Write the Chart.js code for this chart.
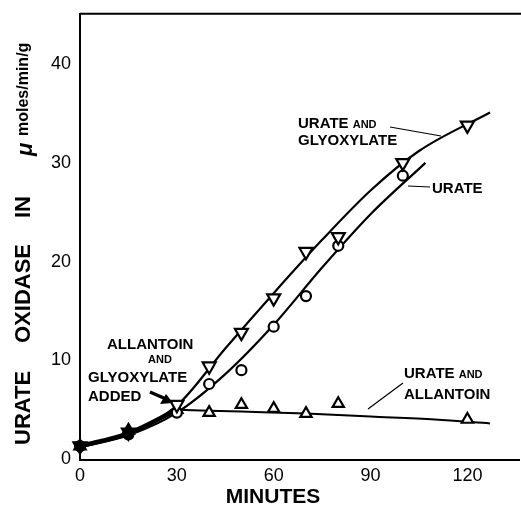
<!DOCTYPE html>
<html>
<head>
  <title>Urate oxidase</title>
  <script src="https://cdn.jsdelivr.net/npm/chart.js"></script>
  <style>
    body { margin: 0; background: #fff; }
    #wrap { width: 521px; height: 508px; }
  </style>
</head>
<body>
  <div id="wrap"><canvas id="chart" width="521" height="508"></canvas></div>

  <script>
    // measured points (minutes, umoles/min/g)
    const minutes = [0, 15, 30, 40, 50, 60, 70, 80, 100, 120];
    const glyoxylatePts = [1.3, 2.7, 5.5, 9.4, 12.8, 16.3, 21.0, 22.5, 30.0, 33.8];
    const uratePts = [1.3, 2.5, 4.7, 7.6, 9.0, 13.4, 16.5, 21.6, 28.7, null];
    const allantoinMin = [0, 15, 30, 40, 50, 60, 70, 80, 120];
    const allantoinPts = [1.3, 2.9, 5.0, 4.7, 5.5, 5.1, 4.6, 5.6, 4.0];

    // hand-drawn fitted curves
    const glyoxCurveX = [0, 15, 30, 45, 60, 75, 90, 105, 127];
    const glyoxCurveY = [1.2, 2.6, 5.4, 11.2, 16.8, 22.2, 27.2, 31.2, 35.1];
    const urateCurveX = [0, 15, 30, 45, 60, 75, 90, 107];
    const urateCurveY = [1.2, 2.4, 4.7, 8.6, 13.6, 19.4, 24.8, 30.0];
    const allanCurveX = [30, 50, 70, 90, 110, 127];
    const allanCurveY = [5.0, 4.8, 4.6, 4.3, 4.0, 3.6];

    const xTicks = [0, 30, 60, 90, 120];
    const yTicks = [0, 10, 20, 30, 40];

    const pts = (xs, ys) => xs.map((x, i) => ({ x: x, y: ys[i] })).filter(p => p.y !== null);

    const font = "'Liberation Sans', Arial, sans-serif";
    const fillFor = c => (c.raw && c.raw.x < 20) ? '#000' : '#fff';

    // extra drawing: frame, labels and leader lines
    const notes = {
      id: 'notes',
      afterDraw(chart) {
        const c = chart.ctx;
        const a = chart.chartArea;
        c.save();
        c.strokeStyle = '#000';
        c.fillStyle = '#000';
        c.lineWidth = 2;
        c.beginPath();
        c.moveTo(a.left, a.top);
        c.lineTo(521, a.top);
        c.moveTo(a.left - 1, a.bottom + 1);
        c.lineTo(520, a.bottom + 1);
        c.stroke();

        c.textBaseline = 'alphabetic';
        c.textAlign = 'left';
        const big = 'bold 15px ' + font;
        const small = 'bold 11px ' + font;
        function word(parts, x, y) {
          parts.forEach(p => {
            c.font = p[1];
            c.fillText(p[0], x, y);
            x += c.measureText(p[0]).width;
          });
        }
        word([['URATE ', big], ['AND', small]], 298, 128);
        word([['GLYOXYLATE', big]], 298, 145);
        word([['URATE', big]], 432, 193);
        word([['URATE ', big], ['AND', small]], 404, 378);
        word([['ALLANTOIN', big]], 404, 399);
        word([['ALLANTOIN', big]], 107, 349);
        word([['AND', small]], 148, 363);
        word([['GLYOXYLATE', big]], 88, 382);
        word([['ADDED', big]], 88, 401);

        c.textAlign = 'center';
        c.font = 'bold 21px ' + font;
        c.fillText('MINUTES', 273, 503);
        c.textAlign = 'left';

        c.lineWidth = 1.2;
        c.beginPath();
        c.moveTo(390, 127); c.lineTo(441, 136);
        c.moveTo(408, 186); c.lineTo(430, 187);
        c.moveTo(368, 409); c.lineTo(403, 383);
        c.stroke();

        // arrow to the 30 min point
        c.lineWidth = 3.5;
        c.beginPath();
        c.moveTo(150, 392); c.lineTo(166, 399);
        c.stroke();
        c.beginPath();
        c.moveTo(173, 403); c.lineTo(160, 404); c.lineTo(166, 394);
        c.closePath();
        c.fill();

        // y axis title, each word placed along the left edge
        c.translate(24, 0);
        c.rotate(-Math.PI / 2);
        c.textBaseline = 'middle';
        c.font = 'bold 22px ' + font;
        c.fillText('URATE', -445, 0);
        c.fillText('OXIDASE', -343, 0);
        c.fillText('IN', -218, 0);
        c.font = 'italic bold 22px ' + font;
        c.fillText('\u03bc', -156, 2);
        c.font = 'bold 16px ' + font;
        c.fillText('moles/min/g', -136, 0);
        c.restore();
      }
    };

    const curve = (xs, ys, w) => ({
      type: 'line',
      data: pts(xs, ys),
      borderColor: '#000',
      borderWidth: w,
      pointRadius: 0,
      cubicInterpolationMode: 'monotone',
      fill: false,
      order: 5
    });

    const marks = (xs, ys, style, rot, r) => ({
      type: 'scatter',
      data: pts(xs, ys),
      pointStyle: style,
      rotation: rot,
      pointRadius: r,
      borderColor: '#000',
      borderWidth: 2.2,
      backgroundColor: fillFor,
      order: 1
    });

    new Chart(document.getElementById('chart'), {
      data: {
        datasets: [
          curve(glyoxCurveX, glyoxCurveY, 2.2),
          curve(urateCurveX, urateCurveY, 2.2),
          curve(allanCurveX, allanCurveY, 2),
          curve([0, 15, 30], [1.3, 2.6, 5.0], 4.5),
          marks(minutes, glyoxylatePts, 'triangle', 180, 7.5),
          marks(minutes, uratePts, 'circle', 0, 5),
          marks(allantoinMin, allantoinPts, 'triangle', 0, 6.5)
        ]
      },
      options: {
        responsive: false,
        animation: false,
        clip: false,
        layout: { padding: { top: 12, right: 0, left: 0, bottom: 0 } },
        plugins: { legend: { display: false }, tooltip: { enabled: false } },
        scales: {
          x: {
            type: 'linear',
            min: 0,
            max: 133.6,
            afterBuildTicks: s => { s.ticks = xTicks.map(v => ({ value: v })); },
            afterFit: s => { s.height = 49; },
            grid: { display: false, drawTicks: true, tickLength: 4, tickColor: '#000' },
            border: { display: false },
            ticks: { color: '#000', font: { family: font, size: 18 }, padding: 2, maxRotation: 0 }
          },
          y: {
            type: 'linear',
            min: 0,
            max: 45.1,
            afterBuildTicks: s => { s.ticks = yTicks.map(v => ({ value: v })); },
            afterFit: s => { s.width = 80; },
            grid: { display: false, drawTicks: true, tickLength: 6, tickColor: '#000' },
            border: { color: '#000', width: 2 },
            ticks: { color: '#000', font: { family: font, size: 18 }, padding: 3 }
          }
        }
      },
      plugins: [notes]
    });
  </script>
</body>
</html>
